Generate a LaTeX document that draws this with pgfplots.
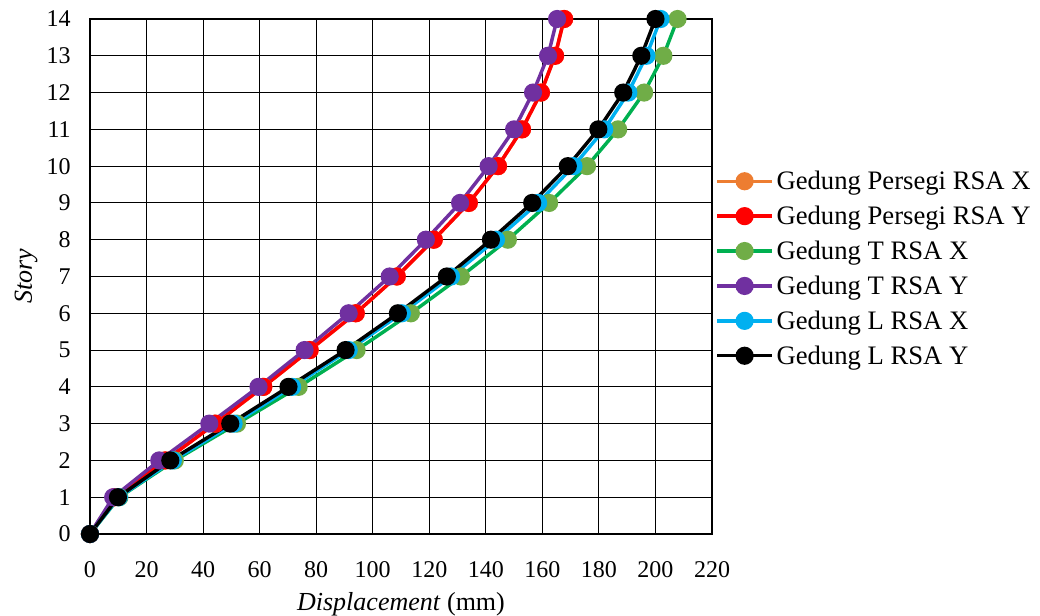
\documentclass[border=0pt]{standalone}
\usepackage{pgfplots}
\pgfplotsset{compat=1.18}
\usepackage{fontspec}
\setmainfont{Liberation Serif}
\definecolor{cOr}{HTML}{ED7D31}
\definecolor{cRed}{HTML}{FF0000}
\definecolor{cGrL}{HTML}{00B050}
\definecolor{cGrM}{HTML}{70AD47}
\definecolor{cPu}{HTML}{7030A0}
\definecolor{cBl}{HTML}{00B0F0}
\begin{document}
\begin{tikzpicture}
\path[use as bounding box] (-67.5pt,-60.75pt) rectangle (712.5pt,400.5pt);
\begin{axis}[
  at={(0,0)}, anchor=south west,
  scale only axis, width=466.5pt, height=386.25pt,
  xmin=0, xmax=220, ymin=0, ymax=14,
  xtick distance=20, ytick distance=1,
  grid=major, major grid style={black, line width=0.8pt},
  axis line style={black, line width=0.8pt},
  tick style={draw=none},
  /pgf/number format/assume math mode=true,
  tick label style={font=\fontsize{18}{20}\selectfont},
  xticklabel style={yshift=-17pt},
  yticklabel style={xshift=-11pt},
  xlabel={\textit{Displacement} (mm)},
  ylabel={\textit{Story}},
  label style={font=\fontsize{19.5}{22}\selectfont},
  xlabel style={yshift=-4pt},
  ylabel style={yshift=0pt},
  legend style={at={(1.005,0.5)}, anchor=west, yshift=6pt, draw=none, fill=none,
    font=\fontsize{20}{22}\selectfont, row sep=6.8pt,
    legend cell align=left, inner xsep=0pt},
  legend image code/.code={
    \draw[#1, mark=none] (0cm,0cm) -- (1.45cm,0cm);
    \draw[#1, only marks] plot coordinates {(0.725cm,0cm)};
  },
  every axis plot/.append style={line width=2.6pt, mark=*, mark size=5.5pt},
]
\addplot[color=cOr, mark options={fill=cOr, draw=cOr}] coordinates {
(0,0) (8.7,1) (26.6,2) (44.3,3) (61.3,4) (77.7,5) (94,6) (108.5,7) (121.6,8) (134,9) (144.3,10) (152.8,11) (159.5,12) (164.5,13) (167.7,14)};
\addlegendentry{Gedung Persegi RSA X}
\addplot[color=cRed, mark options={fill=cRed, draw=cRed}] coordinates {
(0,0) (8.7,1) (26.6,2) (44.3,3) (61.3,4) (77.7,5) (94,6) (108.5,7) (121.6,8) (134,9) (144.3,10) (152.8,11) (159.5,12) (164.5,13) (167.7,14)};
\addlegendentry{Gedung Persegi RSA Y}
\addplot[color=cGrL, mark options={fill=cGrM, draw=cGrM}] coordinates {
(0,0) (10.4,1) (30,2) (52,3) (73.8,4) (94.3,5) (113.5,6) (131.2,7) (147.8,8) (162.4,9) (175.8,10) (186.8,11) (196,12) (202.8,13) (207.8,14)};
\addlegendentry{Gedung T RSA X}
\addplot[color=cPu, mark options={fill=cPu, draw=cPu}] coordinates {
(0,0) (8.2,1) (24.5,2) (42.2,3) (59.6,4) (75.9,5) (91.5,6) (106,7) (118.8,8) (130.9,9) (141,10) (150,11) (156.7,12) (162,13) (165.2,14)};
\addlegendentry{Gedung T RSA Y}
\addplot[color=cBl, mark options={fill=cBl, draw=cBl}] coordinates {
(0,0) (10.2,1) (29.3,2) (50.8,3) (71.5,4) (91.5,5) (110.3,6) (127.7,7) (143.6,8) (158.5,9) (171,10) (181.9,11) (190.4,12) (196.8,13) (201.8,14)};
\addlegendentry{Gedung L RSA X}
\addplot[color=black, mark options={fill=black, draw=black}] coordinates {
(0,0) (9.9,1) (28.4,2) (49.6,3) (70.2,4) (90.4,5) (108.9,6) (126.2,7) (141.8,8) (156.4,9) (169,10) (179.8,11) (188.6,12) (195,13) (200,14)};
\addlegendentry{Gedung L RSA Y}
\end{axis}
\end{tikzpicture}
\end{document}
